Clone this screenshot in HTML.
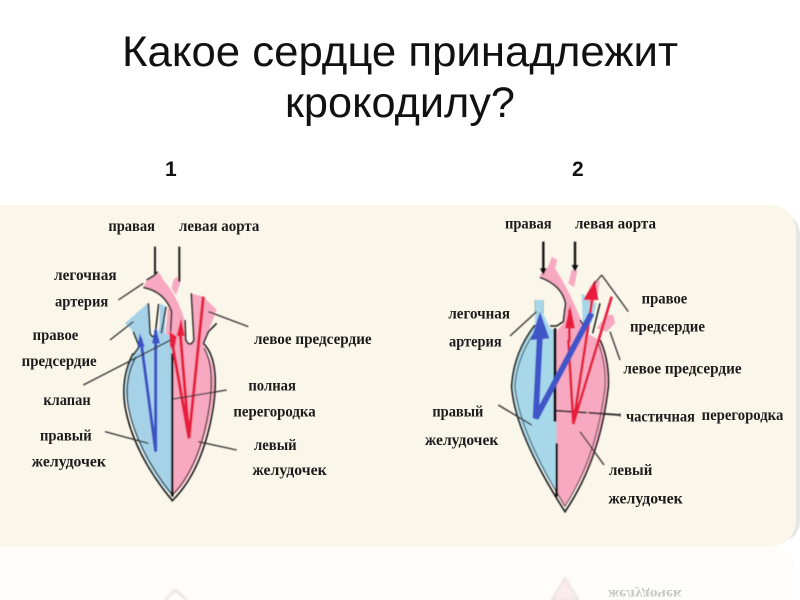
<!DOCTYPE html>
<html><head><meta charset="utf-8"><style>
html,body{margin:0;padding:0;background:#fff;width:800px;height:600px;overflow:hidden}
svg{display:block}
.l{font-family:"Liberation Serif","DejaVu Serif",serif;font-weight:bold;font-size:47px;fill:#1c1c1c}
.t{font-family:"Liberation Sans",sans-serif;font-size:43px;fill:#111}
.n{font-family:"Liberation Sans",sans-serif;font-size:21px;font-weight:bold;fill:#111}
</style></head><body>
<svg width="800" height="600" viewBox="0 0 800 600" xmlns="http://www.w3.org/2000/svg">
<defs><filter id="b" x="-5%" y="-5%" width="110%" height="110%"><feGaussianBlur stdDeviation="1.2"/></filter></defs>
<rect width="800" height="600" fill="#fff"/>
<text class="t" x="122" y="66" textLength="556" lengthAdjust="spacingAndGlyphs">Какое сердце принадлежит</text>
<text class="t" x="285" y="117" textLength="230" lengthAdjust="spacingAndGlyphs">крокодилу?</text>
<text class="n" x="165" y="176">1</text>
<text class="n" x="572" y="176">2</text>
<rect x="770" y="215" width="30" height="325" rx="20" fill="#e6e6e6"/>
<rect x="-25" y="546" width="821" height="80" rx="25" fill="#fefdf9"/>
<rect x="-25" y="205" width="821" height="341" rx="25" fill="#faf6e9"/>
<rect x="0" y="205" width="40" height="341" rx="22" fill="#faf6e9"/>

<!-- left heart -->
<g transform="translate(0,200) scale(.33333)" filter="url(#b)">
<path d="M445,308L375,370L400,395L418,440L385,490L375,570Q385,680 450,800Q490,870 517,885L517,420L505,405L495,400L497,320L480,310L478,385L465,412L450,412L448,385Z" fill="#a6d2e8"/>
<path d="M572,280L610,290L650,330L625,395L610,430L640,500L645,570Q630,680 590,780Q550,870 517,885L517,420L505,405L497,400L503,320L515,335Q490,275 430,262L440,240L465,228L478,218L490,240Q530,285 552,355L555,415Q570,445 582,420Z" fill="#f6a9c0"/>
<path d="M520,240L532,230L542,245L528,285L515,265Z" fill="#f6a9c0"/>
<g fill="none" stroke="#1c1c1c" stroke-width="4.5">
<path d="M445,310L450,400Q458,420 466,400L476,312M498,320L484,400"/>
<path d="M430,262Q495,275 515,335L512,395"/>
<path d="M555,360L557,420Q570,445 582,420L574,280"/>
<path d="M400,460Q362,530 375,620Q400,760 517,902Q610,810 640,620Q660,480 610,430" stroke-width="5"/>
<path d="M408,470Q372,535 385,620Q410,750 517,885Q600,800 628,620Q645,500 612,445" stroke-width="3.5"/>
<path d="M400,395L418,440L400,465M650,370L625,395L610,430"/>
<path d="M440,240L465,225L473,215"/>
</g>
<path d="M517,460V890" stroke="#111" stroke-width="7"/>
<path d="M465,140V222M538,140V245" stroke="#1c1c1c" stroke-width="6"/>
<g fill="none" stroke="#e81f3c" stroke-width="9">
<path d="M515,420L567,715L610,290M540,390L567,715"/>
</g>
<path d="M508,395L530,410L522,452L510,440ZM543,355L554,408L530,408Z" fill="#e81f3c"/>
<g fill="none" stroke="#3b51c4" stroke-width="9"><path d="M422,415L467,755L467,390"/></g>
<path d="M467,382L480,430H456ZM420,400L434,440H412Z" fill="#3b51c4"/>
<g stroke="#333" stroke-width="4" fill="none">
<path d="M430,250L355,300M400,365L330,420M512,420L250,555M315,695L445,730M625,335L745,380M520,597L680,570M595,725L710,750"/>
</g>
</g>
<g transform="translate(0,200) scale(.33333)">
<text class="l" x="325" y="93" textLength="140" lengthAdjust="spacingAndGlyphs">правая</text>
<text class="l" x="537" y="93" textLength="241" lengthAdjust="spacingAndGlyphs">левая аорта</text>
<text class="l" x="162" y="240" textLength="188" lengthAdjust="spacingAndGlyphs">легочная</text>
<text class="l" x="165" y="320" textLength="160" lengthAdjust="spacingAndGlyphs">артерия</text>
<text class="l" x="98" y="420" textLength="137" lengthAdjust="spacingAndGlyphs">правое</text>
<text class="l" x="65" y="498" textLength="225" lengthAdjust="spacingAndGlyphs">предсердие</text>
<text class="l" x="130" y="615" textLength="142" lengthAdjust="spacingAndGlyphs">клапан</text>
<text class="l" x="120" y="722" textLength="155" lengthAdjust="spacingAndGlyphs">правый</text>
<text class="l" x="95" y="800" textLength="223" lengthAdjust="spacingAndGlyphs">желудочек</text>
<text class="l" x="762" y="432" textLength="353" lengthAdjust="spacingAndGlyphs">левое предсердие</text>
<text class="l" x="745" y="572" textLength="143" lengthAdjust="spacingAndGlyphs">полная</text>
<text class="l" x="700" y="650" textLength="247" lengthAdjust="spacingAndGlyphs">перегородка</text>
<text class="l" x="762" y="750" textLength="128" lengthAdjust="spacingAndGlyphs">левый</text>
<text class="l" x="757" y="825" textLength="223" lengthAdjust="spacingAndGlyphs">желудочек</text>
</g>

<!-- right heart -->
<g transform="translate(400,200) scale(.33333)" filter="url(#b)">
<path d="M405,300L430,300L430,340L450,385L468,390L472,880Q440,840 390,740Q345,640 338,560Q340,470 405,375Z" fill="#a6d8ea"/>
<path d="M545,280L590,310L575,370L548,370Z" fill="#a6d8ea"/>
<path d="M468,395L490,370L497,310Q480,255 420,232L422,222Q445,210 455,170L472,180L465,205Q505,265 545,365L560,400L600,420L622,500Q628,620 590,740Q540,860 490,920L470,880Z" fill="#f6a9c0"/>
<path d="M515,210L532,212L522,262L505,250Z" fill="#f6a9c0"/>
<path d="M640,345L645,370L620,395L590,385L620,345ZM570,260L600,240L590,300L565,310Z" fill="#f6a9c0"/>
<g fill="none" stroke="#1c1c1c" stroke-width="4.5">
<path d="M420,232Q485,255 497,310L490,365L470,378L450,378"/>
<path d="M405,375Q340,460 335,560Q345,700 495,935Q600,780 625,560Q628,480 600,420" stroke-width="5"/>
<path d="M412,385Q350,470 345,560Q360,700 495,918Q590,770 615,560Q618,490 595,430" stroke-width="3" stroke="#444"/>
<path d="M600,310L578,400M540,360L550,375"/>
<path d="M405,300V340M430,300V340" stroke="#999" stroke-width="2"/>
</g>
<path d="M465,385V665" stroke="#111" stroke-width="9"/>
<path d="M470,730V890" stroke="#111" stroke-width="7"/>
<path d="M468,632L560,638M565,638L660,645" stroke="#1c1c1c" stroke-width="5"/>
<path d="M430,125V210M525,125V210" stroke="#111" stroke-width="7"/>
<path d="M420,205L430,225L440,205ZM515,195L525,215L535,195Z" fill="#111"/>
<g fill="none" stroke="#e81f3c" stroke-width="8">
<path d="M505,420L520,672L635,290M520,672L578,290"/>
<path d="M508,425V330"/>
</g>
<path d="M585,240L595,300L550,300ZM510,315L525,385L495,385Z" fill="#e81f3c"/>
<g fill="none" stroke="#3f54c8" stroke-width="18"><path d="M420,400L407,655L575,340"/></g>
<path d="M420,335L448,415L393,420Z" fill="#3f54c8"/>
<g stroke="#333" stroke-width="4" fill="none">
<path d="M410,335L330,408M605,225L685,335M605,225L580,255M630,395L660,480M295,615L395,675M540,695L612,795M660,640V650"/>
</g>
</g>
<g transform="translate(400,200) scale(.33333)">
<text class="l" x="315" y="85" textLength="140" lengthAdjust="spacingAndGlyphs">правая</text>
<text class="l" x="525" y="85" textLength="243" lengthAdjust="spacingAndGlyphs">левая аорта</text>
<text class="l" x="145" y="355" textLength="185" lengthAdjust="spacingAndGlyphs">легочная</text>
<text class="l" x="147" y="440" textLength="158" lengthAdjust="spacingAndGlyphs">артерия</text>
<text class="l" x="725" y="310" textLength="137" lengthAdjust="spacingAndGlyphs">правое</text>
<text class="l" x="690" y="395" textLength="225" lengthAdjust="spacingAndGlyphs">предсердие</text>
<text class="l" x="670" y="520" textLength="355" lengthAdjust="spacingAndGlyphs">левое предсердие</text>
<text class="l" x="678" y="665" textLength="207" lengthAdjust="spacingAndGlyphs">частичная</text>
<text class="l" x="905" y="660" textLength="245" lengthAdjust="spacingAndGlyphs">перегородка</text>
<text class="l" x="97" y="650" textLength="153" lengthAdjust="spacingAndGlyphs">правый</text>
<text class="l" x="75" y="735" textLength="220" lengthAdjust="spacingAndGlyphs">желудочек</text>
<text class="l" x="627" y="825" textLength="130" lengthAdjust="spacingAndGlyphs">левый</text>
<text class="l" x="625" y="910" textLength="223" lengthAdjust="spacingAndGlyphs">желудочек</text>
</g>

<!-- reflection -->
<g opacity=".2" filter="url(#b)">
<path d="M552,600L565,578L578,600Z" fill="#f6a9c0" stroke="#333" stroke-width="1.5"/>
<path d="M165,600L175,590L187,600" fill="none" stroke="#333" stroke-width="1.5"/>
</g>
<text class="l" transform="translate(608,578) scale(1,-1)" x="0" y="-12" style="font-size:14px;fill:#c9c7c2" textLength="74" lengthAdjust="spacingAndGlyphs">желудочек</text>
</svg>
</body></html>
